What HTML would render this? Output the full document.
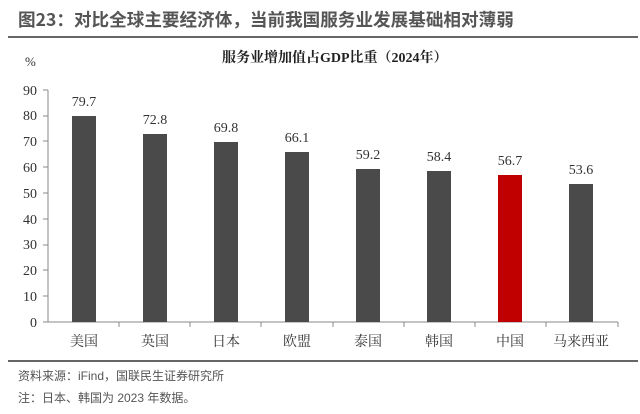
<!DOCTYPE html>
<html><head><meta charset="utf-8"><style>
body{margin:0;background:#fff;width:640px;height:409px;overflow:hidden}
</style></head><body>
<svg width="640" height="409" xmlns="http://www.w3.org/2000/svg">
<text x="18" y="26" font-family="'Noto Sans CJK SC',sans-serif" font-size="17.6" font-weight="bold" fill="#555">图23：对比全球主要经济体，当前我国服务业发展基础相对薄弱</text>
<rect x="8" y="36" width="630" height="2" fill="#666"/>
<text x="222" y="62" font-family="'Liberation Serif','Noto Serif CJK SC',serif" font-size="14" font-weight="bold" fill="#222">服务业增加值占GDP比重（2024年）</text>
<text x="25" y="66" font-family="'Liberation Serif',serif" font-size="13" fill="#333">%</text>
<g font-family="'Liberation Serif',serif" font-size="14" fill="#333" text-anchor="end">
<text x="37" y="327">0</text><text x="37" y="301">10</text><text x="37" y="275">20</text><text x="37" y="249">30</text><text x="37" y="224">40</text><text x="37" y="198">50</text><text x="37" y="172">60</text><text x="37" y="146">70</text><text x="37" y="120">80</text><text x="37" y="95">90</text>
</g>
<g stroke="#888" stroke-width="1">
<line x1="48" y1="90" x2="48" y2="322"/>
<line x1="48" y1="322" x2="618" y2="322"/>
<line x1="43" y1="322" x2="48" y2="322"/><line x1="43" y1="296" x2="48" y2="296"/><line x1="43" y1="270" x2="48" y2="270"/><line x1="43" y1="245" x2="48" y2="245"/><line x1="43" y1="219" x2="48" y2="219"/><line x1="43" y1="193" x2="48" y2="193"/><line x1="43" y1="167" x2="48" y2="167"/><line x1="43" y1="141" x2="48" y2="141"/><line x1="43" y1="116" x2="48" y2="116"/><line x1="43" y1="90" x2="48" y2="90"/>
<line x1="119" y1="322" x2="119" y2="327"/><line x1="190" y1="322" x2="190" y2="327"/><line x1="261" y1="322" x2="261" y2="327"/><line x1="333" y1="322" x2="333" y2="327"/><line x1="404" y1="322" x2="404" y2="327"/><line x1="475" y1="322" x2="475" y2="327"/><line x1="546" y1="322" x2="546" y2="327"/><line x1="618" y1="322" x2="618" y2="327"/>
</g>
<g fill="#4a4a4a">
<rect x="72" y="116" width="24" height="206"/>
<rect x="143" y="134" width="24" height="188"/>
<rect x="214" y="142" width="24" height="180"/>
<rect x="285" y="152" width="24" height="170"/>
<rect x="356" y="169" width="24" height="153"/>
<rect x="427" y="171" width="24" height="151"/>
<rect x="498" y="175" width="24" height="147" fill="#c00000"/>
<rect x="569" y="184" width="24" height="138"/>
</g>
<g font-family="'Liberation Serif',serif" font-size="14" fill="#333" text-anchor="middle">
<text x="84" y="106">79.7</text><text x="155" y="124">72.8</text><text x="226" y="132">69.8</text><text x="297" y="142">66.1</text><text x="368" y="159">59.2</text><text x="439" y="161">58.4</text><text x="510" y="165">56.7</text><text x="581" y="174">53.6</text>
</g>
<g font-family="'Noto Serif CJK SC',serif" font-size="14" fill="#333" text-anchor="middle">
<text x="84" y="346">美国</text><text x="155" y="346">英国</text><text x="226" y="346">日本</text><text x="297" y="346">欧盟</text><text x="368" y="346">泰国</text><text x="439" y="346">韩国</text><text x="510" y="346">中国</text><text x="581" y="346">马来西亚</text>
</g>
<rect x="8" y="360" width="630" height="2" fill="#666"/>
<g font-family="'Liberation Sans','Noto Sans CJK SC',sans-serif" font-size="12" fill="#555">
<text x="18" y="380">资料来源：iFind，国联民生证券研究所</text>
<text x="18" y="402">注：日本、韩国为 2023 年数据。</text>
</g>
</svg>
</body></html>
